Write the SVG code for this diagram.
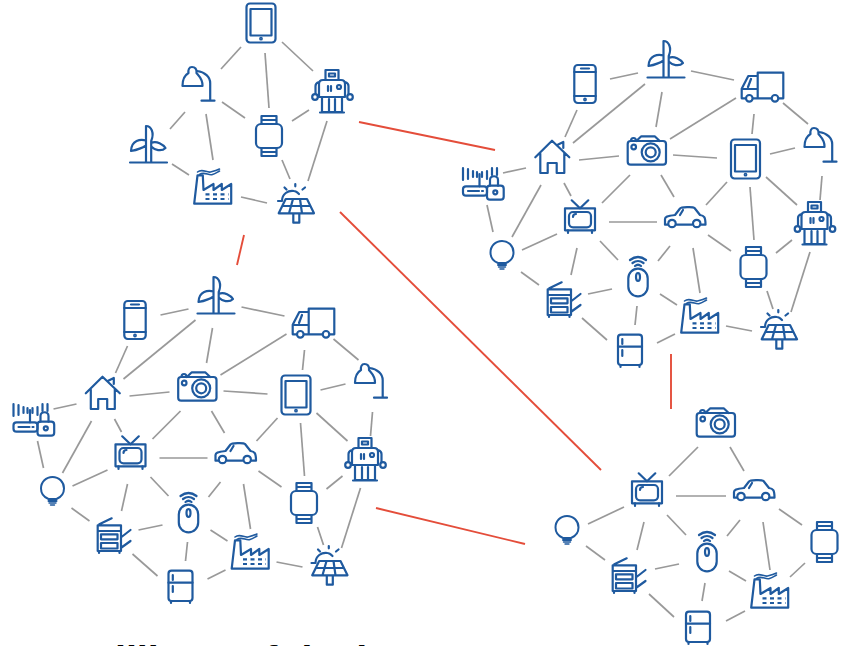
<svg xmlns="http://www.w3.org/2000/svg" width="847" height="646" viewBox="0 0 847 646">
<style>
.ic{fill:none;stroke:#1f5a9f;stroke-width:2.200;stroke-linecap:round;stroke-linejoin:round}
.g line{stroke:#999;stroke-width:1.700}
.r line{stroke:#e44d3a;stroke-width:1.900}
.t{font:bold 39.500px "Liberation Sans",Arial,sans-serif;fill:#000}
</style>
<defs>
<g id="tablet" class="ic"><rect x="-14.500" y="-19.500" width="29" height="39" rx="3.500"/><rect x="-10.500" y="-14" width="21" height="26.500"/><circle cx="0" cy="15.700" r=".8"/></g>
<g id="lamp" class="ic"><path d="M3.500 15.700H16.500M12.200 15.700V-1.700C12.200-8 7-13-1-14"/><path d="M-15.500 1H4.500C5-6 0-10-1.500-12-1-16-3-18-6-18-9-18-10-15-9.500-12-13-10-15.500-5-15.500 1Z"/></g>
<g id="robot" class="ic"><rect x="-6.500" y="-22" width="13" height="10"/><rect x="-3" y="-18.500" width="6" height="3"/><path d="M-13 5V-8Q-13-12-9-12H9Q13-12 13-8V5ZM-10 5V20H10V5M-3 7V20M3 7V20M-12 20.500H12M-4-6V-1M-1-6V-1M-16.500 2V-6Q-16.500-9-13-10M16.500 2V-6Q16.500-9 13-10"/><circle cx="7" cy="-5" r="2"/><circle cx="-17" cy="5" r="2.800"/><circle cx="18" cy="5" r="2.800"/></g>
<g id="watch" class="ic"><rect x="-13" y="-12" width="26" height="24" rx="5"/><path d="M-7.500-12V-20H7.500V-12M-7.500-16H7.500M-7.500 12V20H7.500V12M-7.500 16H7.500"/></g>
<g id="wind" class="ic"><path d="M-18.500 16.500H18.500M-2.500 16.500V-7M2.700 16.500V-5M-2.500-7V-20C3-20 6-13 2.700-5M-2.500-5.500C-8-7-17-6-17.500 5-12 4-6 2-2.500-.5M2.700-3C8-6 15-1 17 2 13 6 6 4 2.700.5"/></g>
<g id="factory" class="ic"><path d="M-18.300 16.700L-15-11.700H-9.700L-9 3 1-3V3L9.300-3V3L18.700-3V16.700Z"/><path d="M-15-15C-10-19-6-14-2-15 2-16 5-17 7-18M-13-12.500C-8-16-4-11 0-12.500 3-13.500 5-15 7-16" stroke-width="1.600"/><path d="M-7 7.300H16M-7 12H16" stroke-dasharray="4 3.500" stroke-linecap="butt"/></g>
<g id="solar" class="ic"><path d="M-10.300-6H11L18 8.300H-17.300ZM-13.500 1H14.500M-3-6L-7 8.300M4-6L6 8.300M-2.700 8.300V17.700H3.300V8.300M-14-4C-14-11-8-15-2-14 0-14 1-13 3-11M-0.700-21V-18.700M-11.500-17.500L-9.500-15.500M9-17.500L6.500-15.500M-18-4H-15.500"/></g>
<g id="phone" class="ic"><rect x="-10.700" y="-19" width="21.400" height="38" rx="3.500"/><path d="M-10.700-12H10.700M-10.700 12H10.700M-4-15.500H4"/><circle cx="0" cy="15.500" r=".8"/></g>
<g id="truck" class="ic"><path d="M-4.300-14.300H21.300V11.300H-4.300ZM-4.300-11H-13.700L-20.300 1.700V11.300H21.300M-20.300 2H-4.300M-11-8L-14 0"/><circle cx="-12.700" cy="11.300" r="3.300" fill="#fff"/><circle cx="13" cy="11.300" r="3.300" fill="#fff"/></g>
<g id="house" class="ic"><path d="M-16.700-.7L0-17.300 17.300-.7M-11.700-4.300V15H-4.300V5H4.700V15H12.300V-5M5.700-13.300L11.300-16V-10"/></g>
<g id="camera" class="ic"><rect x="-19.300" y="-10" width="38.300" height="23.700" rx="3"/><path d="M-10.700-10L-5.700-14.700H7.700L12.700-10"/><circle cx="3.700" cy="1.300" r="9"/><circle cx="3.700" cy="1.300" r="5"/><circle cx="-13.300" cy="-4" r="2.300"/><path d="M-16-10C-16-14-11-14-11-10"/></g>
<g id="router" class="ic"><rect x="-20" y="3.300" width="24" height="9.400" rx="3"/><rect x="4" y="2.700" width="16.700" height="14" rx="3"/><path d="M7 2.700V-3C7-8 15-8 15-3V2.700"/><circle cx="12.300" cy="9.300" r="2"/><path d="M-3.500 3.300V-9M-20-15V-3M-15-14V-4M-10-12V-6M-6-11V-6M-1-11V-6M4-12V-4M9-15V-8M14-15V-8M-15 8H-4M-1 8H0"/></g>
<g id="tv" class="ic"><rect x="-15" y="-9.700" width="30" height="22"/><rect x="-11" y="-6" width="22" height="15.300" rx="4"/><path d="M-8.300-17.700L0-9.700 8.300-17.700M-12 12.300V15M12 12.300V15M-7-1C-7-3-6-4-4-4"/></g>
<g id="car" class="ic"><path d="M-17 6.700H-20V1C-20-1-18-2-10-3L-5-9.500C-4-11 8-11.500 9.500-10L15-3C19-2.500 20.500-1 20.500 6.700H15.500M-8.500 6.700H7M-5-3L-2-8"/><circle cx="-13" cy="5.500" r="3.700"/><circle cx="11.700" cy="5.500" r="3.700"/></g>
<g id="bulb" class="ic"><path d="M-4 9C-9 7-11.500 3-11.500-1.500-11.500-8-6.500-13 0-13S11.500-8 11.500-1.500C11.500 3 9 7 4 9ZM-4 11H4" stroke-width="2"/><path d="M-3.500 13H3.500M-2 15H2" stroke-width="1.400"/></g>
<g id="mouse" class="ic"><rect x="-9.700" y="-8.300" width="19.400" height="27.600" rx="9.700"/><ellipse cx="0" cy="0" rx="2" ry="4"/><path d="M-8-17Q0-23 8-17M-5.500-14Q0-18 5.500-14M-3-11Q0-13.500 3-11"/></g>
<g id="printer" class="ic"><path d="M-13.300-10.700H10V15H-13.300ZM-13.300-5H10M-10-1.700H6.500V3.300H-10ZM-10 7H6.500V12.500H-10ZM-11.700-11.700L.7-17.700M10.500 1L19.500-6M10.500 11.500L19.500 5M-12 15V17M8.500 15V17"/></g>
<g id="fridge" class="ic"><rect x="-12" y="-15.300" width="24" height="30.300" rx="3"/><path d="M-12-3.300H12M-7.700-11V-6M-7.700 0V6M-9.500 15V17M9.500 15V17"/></g>
</defs>
<g id="connectors">
<g class="g">
<line x1="241" y1="47" x2="221" y2="69"/><line x1="265" y1="53" x2="269" y2="108"/><line x1="282" y1="42" x2="313" y2="71"/><line x1="222" y1="102" x2="245" y2="118"/><line x1="185" y1="112" x2="170" y2="129"/><line x1="206" y1="114" x2="213" y2="160"/><line x1="309" y1="110" x2="292" y2="121"/><line x1="327" y1="121" x2="308" y2="181"/><line x1="282" y1="160" x2="290" y2="179"/><line x1="172" y1="164" x2="189" y2="175"/><line x1="241" y1="197" x2="267" y2="203"/>
</g>
<g class="g">
<line x1="503" y1="173" x2="526" y2="168"/><line x1="487" y1="205" x2="493" y2="232"/><line x1="541" y1="185" x2="512" y2="237"/><line x1="564" y1="183" x2="571" y2="196"/><line x1="579" y1="160" x2="619" y2="156"/><line x1="630" y1="175" x2="602" y2="203"/><line x1="661" y1="175" x2="674" y2="197"/><line x1="673" y1="155" x2="717" y2="158"/><line x1="609" y1="222" x2="657" y2="222"/><line x1="557" y1="234" x2="522" y2="250"/><line x1="577" y1="248" x2="571" y2="275"/><line x1="600" y1="241" x2="618" y2="260"/><line x1="670" y1="246" x2="658" y2="261"/><line x1="693" y1="248" x2="700" y2="293"/><line x1="708" y1="235" x2="731" y2="251"/><line x1="706" y1="205" x2="727" y2="182"/><line x1="521" y1="272" x2="539" y2="285"/><line x1="588" y1="294" x2="612" y2="289"/><line x1="582" y1="318" x2="607" y2="340"/><line x1="637" y1="306" x2="635" y2="325"/><line x1="660" y1="294" x2="677" y2="305"/><line x1="657" y1="343" x2="675" y2="334"/><line x1="577" y1="110" x2="565" y2="137"/><line x1="645" y1="84" x2="573" y2="143"/><line x1="610" y1="79" x2="638" y2="73"/><line x1="691" y1="71" x2="734" y2="80"/><line x1="662" y1="92" x2="656" y2="127"/><line x1="736" y1="98" x2="670" y2="139"/><line x1="754" y1="114" x2="752" y2="134"/><line x1="783" y1="103" x2="808" y2="124"/><line x1="770" y1="154" x2="795" y2="148"/><line x1="766" y1="177" x2="797" y2="205"/><line x1="750" y1="187" x2="754" y2="240"/><line x1="822" y1="176" x2="820" y2="200"/><line x1="792" y1="240" x2="776" y2="253"/><line x1="810" y1="252" x2="791" y2="312"/><line x1="767" y1="291" x2="773" y2="309"/><line x1="726" y1="326" x2="752" y2="331"/>
</g>
<g class="g" transform="translate(-449.500 236)">
<line x1="503" y1="173" x2="526" y2="168"/><line x1="487" y1="205" x2="493" y2="232"/><line x1="541" y1="185" x2="512" y2="237"/><line x1="564" y1="183" x2="571" y2="196"/><line x1="579" y1="160" x2="619" y2="156"/><line x1="630" y1="175" x2="602" y2="203"/><line x1="661" y1="175" x2="674" y2="197"/><line x1="673" y1="155" x2="717" y2="158"/><line x1="609" y1="222" x2="657" y2="222"/><line x1="557" y1="234" x2="522" y2="250"/><line x1="577" y1="248" x2="571" y2="275"/><line x1="600" y1="241" x2="618" y2="260"/><line x1="670" y1="246" x2="658" y2="261"/><line x1="693" y1="248" x2="700" y2="293"/><line x1="708" y1="235" x2="731" y2="251"/><line x1="706" y1="205" x2="727" y2="182"/><line x1="521" y1="272" x2="539" y2="285"/><line x1="588" y1="294" x2="612" y2="289"/><line x1="582" y1="318" x2="607" y2="340"/><line x1="637" y1="306" x2="635" y2="325"/><line x1="660" y1="294" x2="677" y2="305"/><line x1="657" y1="343" x2="675" y2="334"/><line x1="577" y1="110" x2="565" y2="137"/><line x1="645" y1="84" x2="573" y2="143"/><line x1="610" y1="79" x2="638" y2="73"/><line x1="691" y1="71" x2="734" y2="80"/><line x1="662" y1="92" x2="656" y2="127"/><line x1="736" y1="98" x2="670" y2="139"/><line x1="754" y1="114" x2="752" y2="134"/><line x1="783" y1="103" x2="808" y2="124"/><line x1="770" y1="154" x2="795" y2="148"/><line x1="766" y1="177" x2="797" y2="205"/><line x1="750" y1="187" x2="754" y2="240"/><line x1="822" y1="176" x2="820" y2="200"/><line x1="792" y1="240" x2="776" y2="253"/><line x1="810" y1="252" x2="791" y2="312"/><line x1="767" y1="291" x2="773" y2="309"/><line x1="726" y1="326" x2="752" y2="331"/>
</g>
<g class="g">
<line x1="698" y1="447" x2="669" y2="476"/><line x1="730" y1="447" x2="744" y2="471"/><line x1="676" y1="496" x2="726" y2="496"/><line x1="624" y1="507" x2="588" y2="524"/><line x1="644" y1="522" x2="637" y2="550"/><line x1="667" y1="515" x2="686" y2="535"/><line x1="740" y1="520" x2="727" y2="536"/><line x1="763" y1="522" x2="770" y2="570"/><line x1="779" y1="509" x2="802" y2="525"/><line x1="586" y1="546" x2="605" y2="560"/><line x1="655" y1="569" x2="679" y2="564"/><line x1="649" y1="594" x2="674" y2="617"/><line x1="705" y1="583" x2="702" y2="601"/><line x1="729" y1="571" x2="746" y2="581"/><line x1="726" y1="621" x2="745" y2="611"/><line x1="790" y1="577" x2="805" y2="563"/>
</g>
<g class="r">
<line x1="359" y1="122" x2="495" y2="150"/><line x1="244" y1="235" x2="237" y2="265"/><line x1="340" y1="212" x2="601" y2="470"/><line x1="671" y1="354" x2="671" y2="409"/><line x1="376" y1="508" x2="525" y2="544"/>
</g>
</g>
<g id="a-tablet"><use href="#tablet" x="261" y="23"/></g>
<g id="a-lamp"><use href="#lamp" x="198" y="85"/></g>
<g id="a-robot"><use href="#robot" x="332" y="92"/></g>
<g id="a-watch"><use href="#watch" x="269" y="136"/></g>
<g id="a-wind"><use href="#wind" x="148.500" y="146"/></g>
<g id="a-factory"><use href="#factory" x="212.500" y="187"/></g>
<g id="a-solar"><use href="#solar" x="296" y="205"/></g>
<g id="b-phone"><use href="#phone" x="585" y="84"/></g>
<g id="b-wind"><use href="#wind" x="666" y="61"/></g>
<g id="b-truck"><use href="#truck" x="762" y="87"/></g>
<g id="b-house"><use href="#house" x="552" y="158"/></g>
<g id="b-camera"><use href="#camera" x="647" y="151"/></g>
<g id="b-tablet"><use href="#tablet" x="745.500" y="159"/></g>
<g id="b-lamp"><use href="#lamp" x="820" y="146"/></g>
<g id="b-router"><use href="#router" x="483" y="183"/></g>
<g id="b-tv"><use href="#tv" x="580" y="218"/></g>
<g id="b-car"><use href="#car" x="685" y="218"/></g>
<g id="b-robot"><use href="#robot" x="814.500" y="224"/></g>
<g id="b-bulb"><use href="#bulb" x="502" y="254"/></g>
<g id="b-watch"><use href="#watch" x="753.500" y="267"/></g>
<g id="b-mouse"><use href="#mouse" x="638" y="277"/></g>
<g id="b-printer"><use href="#printer" x="561" y="300"/></g>
<g id="b-factory"><use href="#factory" x="699.500" y="316"/></g>
<g id="b-solar"><use href="#solar" x="779" y="331"/></g>
<g id="b-fridge"><use href="#fridge" x="630" y="350"/></g>
<g id="c-phone"><use href="#phone" x="135" y="320"/></g>
<g id="c-wind"><use href="#wind" x="216" y="297"/></g>
<g id="c-truck"><use href="#truck" x="313" y="323"/></g>
<g id="c-house"><use href="#house" x="102.500" y="394"/></g>
<g id="c-camera"><use href="#camera" x="197.500" y="387"/></g>
<g id="c-tablet"><use href="#tablet" x="296" y="395"/></g>
<g id="c-lamp"><use href="#lamp" x="370.500" y="382"/></g>
<g id="c-router"><use href="#router" x="33.500" y="419"/></g>
<g id="c-tv"><use href="#tv" x="130.500" y="454"/></g>
<g id="c-car"><use href="#car" x="235.500" y="454"/></g>
<g id="c-robot"><use href="#robot" x="365" y="460"/></g>
<g id="c-bulb"><use href="#bulb" x="52.500" y="490"/></g>
<g id="c-watch"><use href="#watch" x="304" y="503"/></g>
<g id="c-mouse"><use href="#mouse" x="188.500" y="513"/></g>
<g id="c-printer"><use href="#printer" x="111" y="536"/></g>
<g id="c-factory"><use href="#factory" x="250" y="552"/></g>
<g id="c-solar"><use href="#solar" x="329.500" y="567"/></g>
<g id="c-fridge"><use href="#fridge" x="180.500" y="586"/></g>
<g id="d-camera"><use href="#camera" x="716" y="423"/></g>
<g id="d-tv"><use href="#tv" x="647" y="491"/></g>
<g id="d-car"><use href="#car" x="754" y="491"/></g>
<g id="d-bulb"><use href="#bulb" x="567" y="529"/></g>
<g id="d-watch"><use href="#watch" x="824.500" y="542"/></g>
<g id="d-mouse"><use href="#mouse" x="707" y="552"/></g>
<g id="d-printer"><use href="#printer" x="626" y="576"/></g>
<g id="d-factory"><use href="#factory" x="769.500" y="591"/></g>
<g id="d-fridge"><use href="#fridge" x="698" y="627"/></g>
<text class="t" x="82" y="672.500">Millions of devices</text>
</svg>
